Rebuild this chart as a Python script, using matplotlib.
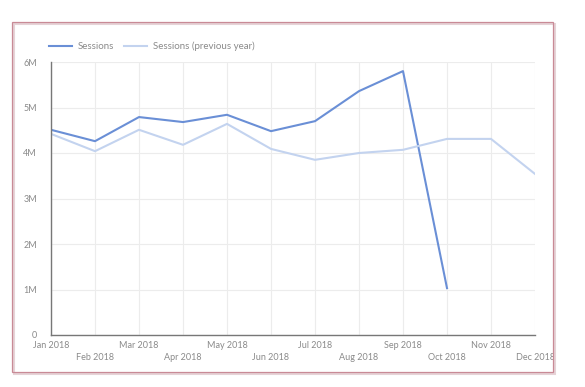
import matplotlib.pyplot as plt
from matplotlib.patches import Rectangle

months = ['Jan 2018', 'Feb 2018', 'Mar 2018', 'Apr 2018', 'May 2018', 'Jun 2018',
          'Jul 2018', 'Aug 2018', 'Sep 2018', 'Oct 2018', 'Nov 2018', 'Dec 2018']
sessions = [4.51, 4.26, 4.79, 4.68, 4.84, 4.48, 4.70, 5.36, 5.80, 1.03]
sessions_prev = [4.42, 4.04, 4.51, 4.18, 4.64, 4.09, 3.85, 4.00, 4.07, 4.31, 4.31, 3.54]
yticks = [0, 1, 2, 3, 4, 5, 6]
ytick_labels = ['0', '1M', '2M', '3M', '4M', '5M', '6M']

plt.rcParams['font.family'] = ['Lato', 'DejaVu Sans']

W, H = 585, 387
fig = plt.figure(figsize=(W / 100, H / 100), dpi=100)
fig.patch.set_facecolor('white')

# outer card border (soft shadow + line)
fig.patches.append(Rectangle((13.5 / W, 1 - 373.5 / H), 541 / W, 350 / H,
                             transform=fig.transFigure, fill=False,
                             edgecolor='#e6d3d7', lw=1.5, zorder=0))
fig.patches.append(Rectangle((12 / W, 1 - 372 / H), 541 / W, 350 / H,
                             transform=fig.transFigure, fill=False,
                             edgecolor='#c98a96', lw=0.9, zorder=1))

ax = fig.add_axes([51 / W, 1 - 335 / H, 484 / W, 273 / H])
x = list(range(len(months)))
ax.plot(x[:len(sessions)], sessions, color='#6a8fd6', lw=1.5, label='Sessions')
ax.plot(x, sessions_prev, color='#c3d3ef', lw=1.5, label='Sessions (previous year)')

ax.set_xlim(0, len(months) - 1)
ax.set_ylim(0, 6)
ax.set_yticks(yticks)
ax.set_yticklabels(ytick_labels)
ax.set_xticks(x)
labels = [m if i % 2 == 0 else '\n' + m for i, m in enumerate(months)]
ax.set_xticklabels(labels)
for t in ax.get_xticklabels():
    t.set_linespacing(1.45)

ax.grid(True, color='#ececec', lw=0.8)
ax.set_axisbelow(True)
for s in ['top', 'right']:
    ax.spines[s].set_visible(False)
for s in ['left', 'bottom']:
    ax.spines[s].set_color('#777777')
    ax.spines[s].set_linewidth(1.0)
ax.tick_params(length=0, labelsize=6.5, colors='#8a8a8a', pad=4)
ax.tick_params(axis='y', pad=10)

leg = ax.legend(loc='lower left', bbox_to_anchor=(-0.005, 1.04), ncol=2, frameon=False,
                fontsize=7.0, handlelength=2.4, handletextpad=0.6, columnspacing=1.0,
                borderaxespad=0, borderpad=0)
for t in leg.get_texts():
    t.set_color('#8a8a8a')

fig.savefig('out.png', dpi=100)
